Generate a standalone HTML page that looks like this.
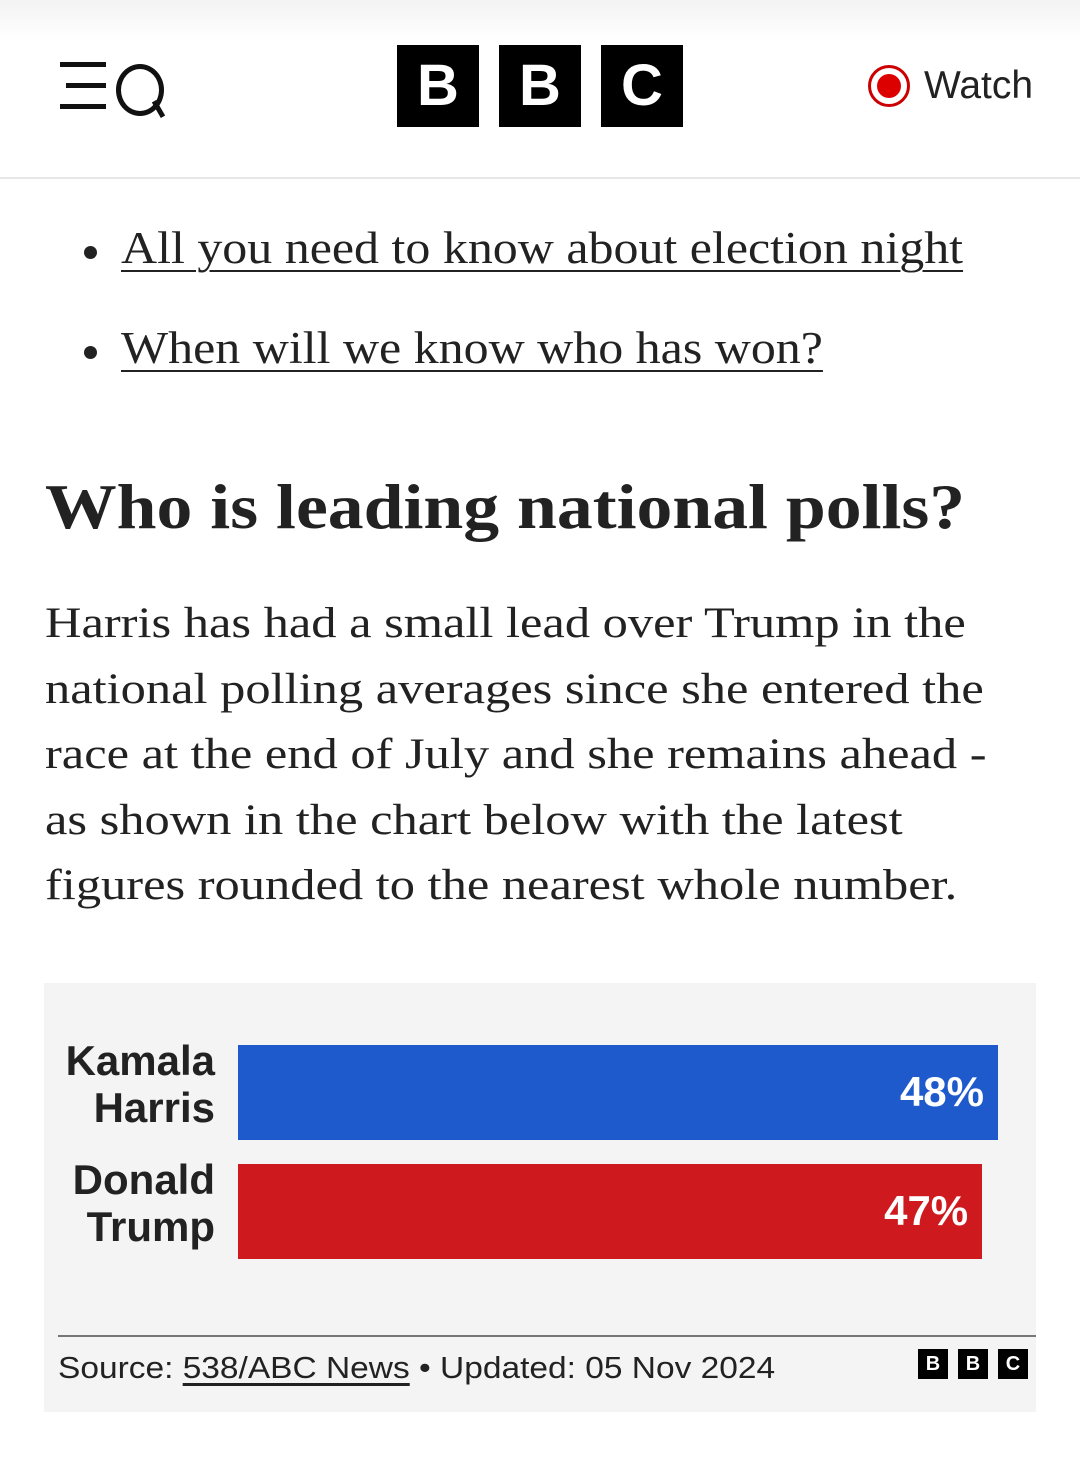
<!DOCTYPE html>
<html><head><meta charset="utf-8"><style>
body{margin:0;width:1080px;height:1458px;background:#fff;position:relative;overflow:hidden;font-family:"Liberation Serif",serif;color:#222}
.abs{position:absolute}
.hdr{left:0;top:0;width:1080px;height:177px;background:linear-gradient(#f3f3f3 0,#fff 40px);border-bottom:2px solid #e6e6e6}
.box{background:#000;color:#fff;font:bold 58px "Liberation Sans",sans-serif;text-align:center;line-height:82px;width:82px;height:82px;top:45px}
.link{font-size:45px;color:#222;text-decoration:underline;text-decoration-thickness:2px;text-underline-offset:7px;white-space:nowrap;transform-origin:left;transform:scaleX(1.11)}
.dot{width:13px;height:13px;border-radius:50%;background:#222}
.lbl{font:bold 42px "Liberation Sans",sans-serif;color:#222;text-align:right;width:200px;line-height:47px}
.sb{background:#000;color:#fff;font:bold 20px "Liberation Sans",sans-serif;width:30px;height:30px;line-height:30px;text-align:center;top:1349px}
.pl{left:45px;font-size:43.5px;white-space:nowrap;transform-origin:left;transform:scaleX(1.16)}
</style></head><body>
<div class="abs hdr"></div>
<div class="abs" style="left:60px;top:62px;width:110px;height:52px">
 <div class="abs" style="left:0;top:0;width:46px;height:5px;background:#111"></div>
 <div class="abs" style="left:6px;top:21px;width:40px;height:5px;background:#111"></div>
 <div class="abs" style="left:0;top:42px;width:46px;height:5px;background:#111"></div>
 <div class="abs" style="left:56px;top:2px;width:38px;height:42px;border:5px solid #111;border-radius:50%"></div>
 <div class="abs" style="left:96px;top:38px;width:5px;height:18px;background:#111;transform:rotate(-30deg)"></div>
</div>
<div class="abs box" style="left:397px">B</div>
<div class="abs box" style="left:499px">B</div>
<div class="abs box" style="left:601px">C</div>
<div class="abs" style="left:866px;top:62px;width:180px;height:50px">
 <div class="abs" style="left:2px;top:3px;width:42px;height:42px;border:3px solid #c00;border-radius:50%;box-sizing:border-box"></div>
 <div class="abs" style="left:11px;top:12px;width:24px;height:24px;background:#d00;border-radius:50%"></div>
 <div class="abs" style="left:58px;top:2px;font:39px 'Liberation Sans',sans-serif;color:#222">Watch</div>
</div>
<div class="abs dot" style="left:84px;top:246px"></div>
<div class="abs link" style="left:121px;top:222px">All you need to know about election night</div>
<div class="abs dot" style="left:84px;top:346px"></div>
<div class="abs link" style="left:121px;top:322px">When will we know who has won?</div>
<div class="abs" style="left:45px;top:470px;font-size:64px;font-weight:bold;white-space:nowrap;transform-origin:left;transform:scaleX(1.12)">Who is leading national polls?</div>
<div class="abs" style="left:0;top:598px;width:1080px;height:340px">
<div class="abs pl" style="top:0">Harris has had a small lead over Trump in the</div>
<div class="abs pl" style="top:66px">national polling averages since she entered the</div>
<div class="abs pl" style="top:131px">race at the end of July and she remains ahead -</div>
<div class="abs pl" style="top:197px">as shown in the chart below with the latest</div>
<div class="abs pl" style="top:262px">figures rounded to the nearest whole number.</div>
</div>
<div class="abs" style="left:44px;top:983px;width:992px;height:429px;background:#f4f4f4"></div>
<div id="chart" class="abs" style="left:0;top:0"></div>
<div class="abs" style="left:58px;top:1335px;width:978px;height:2px;background:#777"></div>
<div class="abs" style="left:58px;top:1350px;font:31px 'Liberation Sans',sans-serif;color:#222;white-space:nowrap;transform-origin:left;transform:scaleX(1.08)">Source: <span style="text-decoration:underline;text-underline-offset:5px">538/ABC News</span> • Updated: 05 Nov 2024</div>
<div class="abs sb" style="left:918px">B</div><div class="abs sb" style="left:958px">B</div><div class="abs sb" style="left:998px">C</div>
<script>
const candidates=["Kamala Harris","Donald Trump"];
const labelLines=[["Kamala","Harris"],["Donald","Trump"]];
const values=[48,47];
const valueLabels=["48%","47%"];
const colors=["#1f5acc","#ce1a1e"];
const x0=238, pxPer=760/48;
const x=v=>x0+v*pxPer;
const yTop=i=>1045+i*119;
const c=document.getElementById('chart');
candidates.forEach((n,i)=>{
 const b=document.createElement('div');
 
 
 b.className='abs';
 b.style.cssText=`left:${x0}px;top:${yTop(i)}px;width:${x(values[i])-x0}px;height:95px;background:${colors[i]}`;
 const t=document.createElement('div');
 
 
 t.className='abs';
 t.textContent=valueLabels[i];
 t.style.cssText='right:14px;top:23px;font:bold 42px "Liberation Sans",sans-serif;color:#fff';
 b.appendChild(t);c.appendChild(b);
 const l=document.createElement('div');
 
 
 l.className='abs lbl';
 l.innerHTML=labelLines[i].join('<br>');
 l.style.left='15px';l.style.top=(yTop(i)-8)+'px';
 c.appendChild(l);
});
</script>
</body></html>
